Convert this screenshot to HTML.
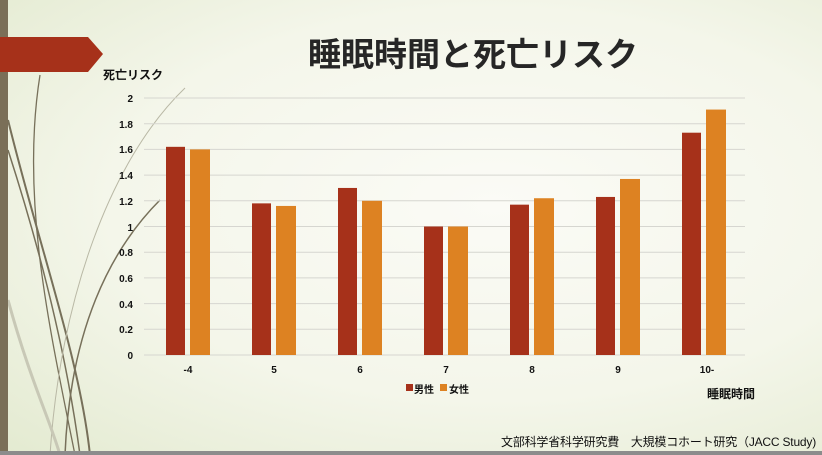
<!DOCTYPE html>
<html><head><meta charset="utf-8"><style>
html,body{margin:0;padding:0}
body{width:822px;height:455px;overflow:hidden;position:relative;font-family:"Liberation Sans","Noto Sans CJK JP",sans-serif;background:radial-gradient(ellipse at 60% 45%,#fbfbf6 0%,#f4f6ea 55%,#e3ead0 100%)}
.t{position:absolute;white-space:nowrap;color:#111}
</style></head><body>
<svg width="822" height="455" style="position:absolute;left:0;top:0">
<g fill="none" stroke="#77705a">
<path d="M8 120 C40 250 80 360 90 455" stroke-width="2"/>
<path d="M8 150 C50 280 70 380 80 455" stroke-width="1.5"/>
<path d="M40 75 C20 200 50 330 75 455" stroke-width="1.3"/>
<path d="M160 200 C110 250 70 330 65 455" stroke-width="1.5"/>
<path d="M185 88 C110 160 60 300 50 455" stroke="#b9b8a5" stroke-width="1"/>
<path d="M8 300 C30 380 50 420 60 455" stroke="#c8c8b6" stroke-width="3"/>
</g>
<rect x="0" y="0" width="8" height="455" fill="#7a6f58"/>
<polygon points="0,37 88,37 103,54 88,72 0,72" fill="#a6311a"/>
<rect x="0" y="451" width="822" height="4" fill="#8c8c8c"/>
<g stroke="#d6d6d0" stroke-width="1">
<line x1="144" x2="745" y1="355" y2="355"/><line x1="144" x2="745" y1="329.3" y2="329.3"/>
<line x1="144" x2="745" y1="303.6" y2="303.6"/><line x1="144" x2="745" y1="277.9" y2="277.9"/>
<line x1="144" x2="745" y1="252.2" y2="252.2"/><line x1="144" x2="745" y1="226.5" y2="226.5"/>
<line x1="144" x2="745" y1="200.8" y2="200.8"/><line x1="144" x2="745" y1="175.1" y2="175.1"/>
<line x1="144" x2="745" y1="149.4" y2="149.4"/><line x1="144" x2="745" y1="123.7" y2="123.7"/>
<line x1="144" x2="745" y1="98" y2="98"/>
</g>
<g id="bars"></g>
<g font-size="10" font-weight="bold" fill="#111" font-family="Liberation Sans,sans-serif" text-anchor="end">
<text x="133" y="359">0</text><text x="133" y="333">0.2</text><text x="133" y="308">0.4</text>
<text x="133" y="282">0.6</text><text x="133" y="256">0.8</text><text x="133" y="231">1</text>
<text x="133" y="205">1.2</text><text x="133" y="179">1.4</text><text x="133" y="153">1.6</text>
<text x="133" y="128">1.8</text><text x="133" y="102">2</text>
</g>
<g font-size="10" font-weight="bold" fill="#111" font-family="Liberation Sans,sans-serif" text-anchor="middle">
<text x="188" y="373">-4</text><text x="274" y="373">5</text><text x="360" y="373">6</text>
<text x="446" y="373">7</text><text x="532" y="373">8</text><text x="618" y="373">9</text><text x="707" y="373">10-</text>
</g>
<rect x="406" y="384" width="7" height="7" fill="#a6311a"/>
<rect x="440" y="384" width="7" height="7" fill="#dd8222"/>
</svg>
<div class="t" style="left:0;width:946px;text-align:center;top:28px;font-size:33px;font-weight:bold;color:#262626">睡眠時間と死亡リスク</div>
<div class="t" style="left:103px;top:66px;font-size:12px;font-weight:bold">死亡リスク</div>
<div class="t" style="left:414px;top:381px;font-size:10px;font-weight:bold">男性</div>
<div class="t" style="left:449px;top:381px;font-size:10px;font-weight:bold">女性</div>
<div class="t" style="left:707px;top:385px;font-size:12px;font-weight:bold">睡眠時間</div>
<div class="t" style="right:6px;top:433px;font-size:12px;letter-spacing:-0.2px">文部科学省科学研究費　大規模コホート研究（JACC Study)</div>
<script>
var m=[1.62,1.18,1.30,1.00,1.17,1.23,1.73],f=[1.60,1.16,1.20,1.00,1.22,1.37,1.91],s='';
for(var i=0;i<7;i++){var c=188+86*i;
s+='<rect x="'+(c-22)+'" y="'+(355-m[i]*128.5)+'" width="19" height="'+(m[i]*128.5)+'" fill="#a6311a"/>';
s+='<rect x="'+(c+2)+'" y="'+(355-f[i]*128.5)+'" width="20" height="'+(f[i]*128.5)+'" fill="#dd8222"/>';}
document.getElementById('bars').innerHTML=s;
</script>
</body></html>
